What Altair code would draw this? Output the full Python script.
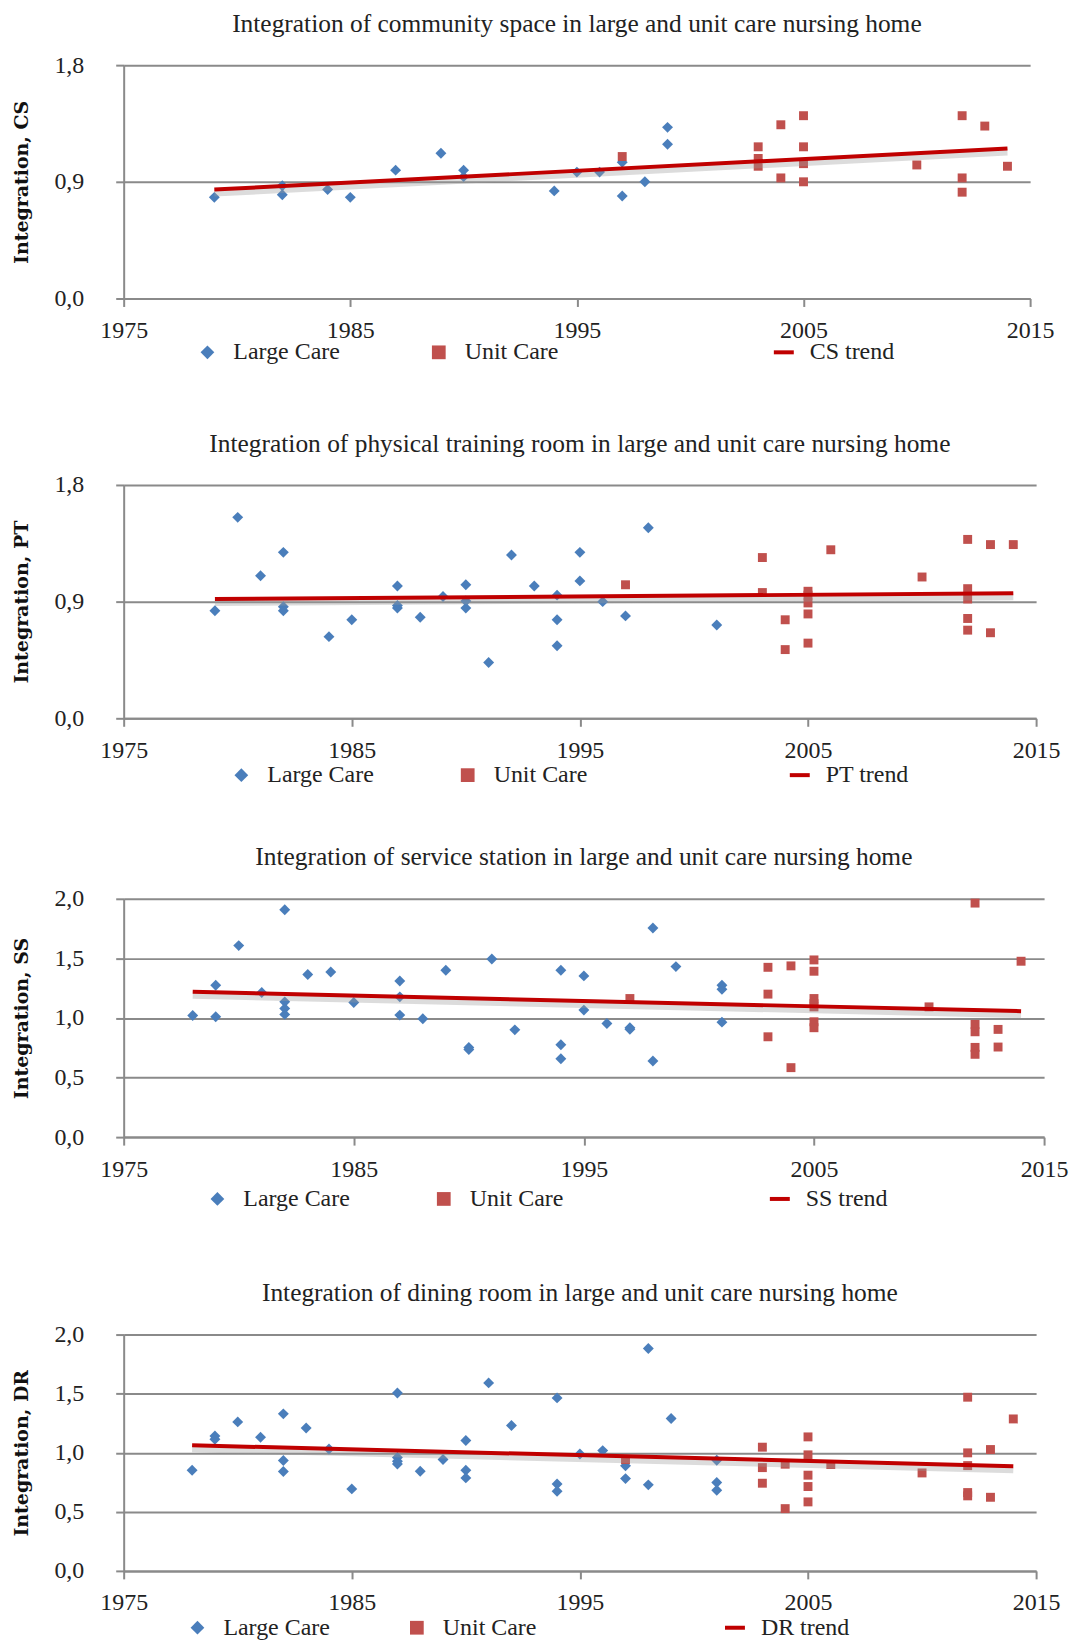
import altair as alt
import pandas as pd

# ---------------- data ----------------
cs_large_year = [1979, 1982, 1982, 1984, 1985, 1987, 1989, 1990, 1990, 1994, 1995, 1996, 1997, 1997, 1998, 1999, 1999]
cs_large_val = [0.78, 0.80, 0.87, 0.84, 0.78, 0.99, 1.12, 0.99, 0.94, 0.83, 0.975, 0.975, 1.05, 0.79, 0.90, 1.32, 1.19]
cs_unit_year = [1997, 2003, 2003, 2003, 2004, 2004, 2005, 2005, 2005, 2005, 2010, 2012, 2012, 2012, 2013, 2014]
cs_unit_val = [1.095, 1.17, 1.08, 1.02, 1.34, 0.93, 1.41, 1.17, 1.04, 0.90, 1.03, 1.41, 0.93, 0.82, 1.33, 1.02]
cs_trend_year = [1979, 2014]
cs_trend_val = [0.84, 1.157]

pt_large_year = [1979, 1980, 1981, 1982, 1982, 1982, 1984, 1985, 1987, 1987, 1987, 1988, 1989, 1990, 1990, 1990,
                 1991, 1992, 1993, 1994, 1994, 1994, 1995, 1995, 1996, 1997, 1998, 2001]
pt_large_val = [0.83, 1.55, 1.10, 1.28, 0.86, 0.83, 0.63, 0.76, 1.02, 0.87, 0.85, 0.78, 0.94, 1.03, 0.905, 0.85,
                0.43, 1.26, 1.02, 0.95, 0.76, 0.56, 1.28, 1.06, 0.90, 0.79, 1.47, 0.72]
pt_unit_year = [1997, 2003, 2003, 2004, 2004, 2005, 2005, 2005, 2005, 2005, 2006, 2010, 2012, 2012, 2012, 2012,
                2012, 2013, 2013, 2014]
pt_unit_val = [1.03, 1.24, 0.97, 0.76, 0.53, 0.98, 0.95, 0.89, 0.805, 0.58, 1.30, 1.09, 1.38, 1.00, 0.92, 0.77,
               0.68, 1.34, 0.66, 1.34]
pt_trend_year = [1979, 2014]
pt_trend_val = [0.92, 0.964]

ss_large_year = [1978, 1979, 1979, 1980, 1981, 1982, 1982, 1982, 1982, 1983, 1984, 1985, 1987, 1987, 1987, 1988,
                 1989, 1990, 1990, 1991, 1992, 1994, 1994, 1994, 1995, 1995, 1996, 1997, 1997, 1998, 1998, 1999,
                 2001, 2001, 2001]
ss_large_val = [1.02, 1.275, 1.01, 1.607, 1.213, 1.908, 1.135, 1.08, 1.03, 1.364, 1.386, 1.13, 1.31, 1.177, 1.024,
                0.993, 1.40, 0.753, 0.736, 1.495, 0.90, 1.40, 0.775, 0.658, 1.353, 1.066, 0.954, 0.918, 0.905,
                1.755, 0.639, 1.431, 1.275, 1.24, 0.965]
ss_unit_year = [1997, 2003, 2003, 2003, 2004, 2004, 2005, 2005, 2005, 2005, 2005, 2005, 2005, 2010, 2012, 2012,
                2012, 2012, 2012, 2013, 2013, 2014]
ss_unit_val = [1.163, 1.425, 1.20, 0.842, 1.437, 0.583, 1.487, 1.392, 1.163, 1.12, 1.093, 0.968, 0.918, 1.093,
               1.964, 0.946, 0.884, 0.753, 0.695, 0.904, 0.756, 1.476]
ss_trend_year = [1978, 2014]
ss_trend_val = [1.219, 1.057]

dr_large_year = [1978, 1979, 1979, 1980, 1981, 1982, 1982, 1982, 1983, 1984, 1985, 1987, 1987, 1987, 1987, 1988,
                 1989, 1990, 1990, 1990, 1991, 1992, 1994, 1994, 1994, 1995, 1996, 1997, 1997, 1998, 1998, 1999,
                 2001, 2001, 2001]
dr_large_val = [0.852, 1.142, 1.114, 1.261, 1.131, 1.329, 0.934, 0.841, 1.21, 1.032, 0.694, 1.506, 0.96, 0.928,
                0.905, 0.843, 0.942, 1.103, 0.852, 0.787, 1.591, 1.23, 1.464, 0.736, 0.674, 0.99, 1.018, 0.889,
                0.781, 1.882, 0.728, 1.289, 0.937, 0.748, 0.683]
dr_unit_year = [1997, 2003, 2003, 2003, 2004, 2004, 2005, 2005, 2005, 2005, 2005, 2006, 2010, 2012, 2012, 2012,
                2012, 2012, 2013, 2013, 2014]
dr_unit_val = [0.942, 1.047, 0.874, 0.742, 0.903, 0.527, 1.134, 0.982, 0.81, 0.714, 0.584, 0.90, 0.829, 1.47,
               0.999, 0.891, 0.663, 0.635, 1.027, 0.623, 1.286]
dr_trend_year = [1978, 2014]
dr_trend_val = [1.063, 0.886]

x_ticks = [1975, 1985, 1995, 2005, 2015]
series_names = ["Large Care", "Unit Care"]

BLUE = "#4a7ebb"
RED = "#c0504d"
TREND = "#c00000"
GRID = "#8a8a8a"
FONT = "Liberation Serif"

RES = dict(fill="independent", shape="independent", stroke="independent")


def make_panel(title, ytitle, trend_label, ly, lv, uy, uv, ty, tv, ymax, yticks,
               width, height, leg1_x, leg2_x, leg_y, col_pad):
    large = pd.DataFrame({"year": ly, "value": lv, "type": ["Large Care"] * len(ly)})
    unit = pd.DataFrame({"year": uy, "value": uv, "type": ["Unit Care"] * len(uy)})
    trend = pd.DataFrame({"year": ty, "value": tv, "series": [trend_label] * len(ty)})

    x = alt.X("year:Q",
              scale=alt.Scale(domain=[1975, 2015], nice=False, zero=False),
              axis=alt.Axis(values=x_ticks, format="d", grid=False, title=None,
                            labelPadding=12, labelFlush=False))
    y = alt.Y("value:Q",
              scale=alt.Scale(domain=[0, ymax], nice=False, zero=True),
              axis=alt.Axis(values=yticks, grid=True, title=ytitle,
                            labelExpr="replace(format(datum.value, '.1f'), '.', ',')",
                            labelPadding=32, titlePadding=22,
                            titleFont="DejaVu Serif", titleFontSize=19, titleFontWeight="bold",
                            titleColor="#111"))

    leg = alt.Legend(title=None, orient="none", legendX=leg1_x, legendY=leg_y,
                     direction="horizontal", symbolSize=190, columnPadding=col_pad,
                     labelOffset=14)
    fill = alt.Fill("type:N", scale=alt.Scale(domain=series_names, range=[BLUE, RED]), legend=leg)
    shape = alt.Shape("type:N", scale=alt.Scale(domain=series_names, range=["diamond", "square"]), legend=leg)

    pts_large = alt.Chart(large).mark_point(filled=True, opacity=1, size=120).encode(
        x=x, y=y, fill=fill, shape=shape)
    pts_unit = alt.Chart(unit).mark_point(filled=True, opacity=1, size=80).encode(
        x=x, y=y, fill=fill, shape=shape)
    shadow = alt.Chart(trend).mark_line(color="#9a9a9a", strokeWidth=6, opacity=0.35, yOffset=4).encode(
        x=x, y=y)
    line = alt.Chart(trend).mark_line(strokeWidth=4).encode(
        x=x, y=y,
        stroke=alt.Stroke("series:N", scale=alt.Scale(domain=[trend_label], range=[TREND]),
                          legend=alt.Legend(title=None, orient="none", legendX=leg2_x, legendY=leg_y,
                                            symbolType="stroke", symbolSize=400, symbolStrokeWidth=4,
                                            labelOffset=14)),
    )
    return alt.layer(pts_large, pts_unit, shadow, line).properties(
        width=width, height=height,
        title=alt.TitleParams(title, font=FONT, fontSize=25.5, fontWeight="normal",
                              color="#222", anchor="middle", offset=16),
    )


p1 = make_panel("Integration of community space in large and unit care nursing home", "Integration, CS",
                "CS trend", cs_large_year, cs_large_val, cs_unit_year, cs_unit_val,
                cs_trend_year, cs_trend_val, 1.8, [0, 0.9, 1.8], 909, 234, 72, 650, 276, 87)
p2 = make_panel("Integration of physical training room in large and unit care nursing home", "Integration, PT",
                "PT trend", pt_large_year, pt_large_val, pt_unit_year, pt_unit_val,
                pt_trend_year, pt_trend_val, 1.8, [0, 0.9, 1.8], 915, 234, 106, 666, 279, 82)
p3 = make_panel("Integration of service station in large and unit care nursing home", "Integration, SS",
                "SS trend", ss_large_year, ss_large_val, ss_unit_year, ss_unit_val,
                ss_trend_year, ss_trend_val, 2.0, [0, 0.5, 1.0, 1.5, 2.0], 923, 239, 82, 646, 289, 82)
p4 = make_panel("Integration of dining room in large and unit care nursing home", "Integration, DR",
                "DR trend", dr_large_year, dr_large_val, dr_unit_year, dr_unit_val,
                dr_trend_year, dr_trend_val, 2.0, [0, 0.5, 1.0, 1.5, 2.0], 915, 237, 62, 601, 282, 75)

top_pair = alt.vconcat(p1, p2, spacing=67).resolve_scale(**RES).resolve_legend(**RES)
bottom_pair = alt.vconcat(p3, p4, spacing=70).resolve_scale(**RES).resolve_legend(**RES)

chart = alt.vconcat(top_pair, bottom_pair, spacing=58).resolve_scale(**RES).resolve_legend(**RES).properties(
    padding={"left": 5, "top": 1, "right": 5, "bottom": 0}
).configure_axis(
    domainColor=GRID, domainWidth=2, tickColor=GRID, tickWidth=2, tickSize=8,
    gridColor=GRID, gridWidth=2, labelFont=FONT, labelFontSize=24, labelColor="#222",
).configure_view(stroke=None).configure_legend(
    labelFont=FONT, labelFontSize=24, labelColor="#222"
)

chart.save("out.html", embed_options={"renderer": "svg", "actions": False})
